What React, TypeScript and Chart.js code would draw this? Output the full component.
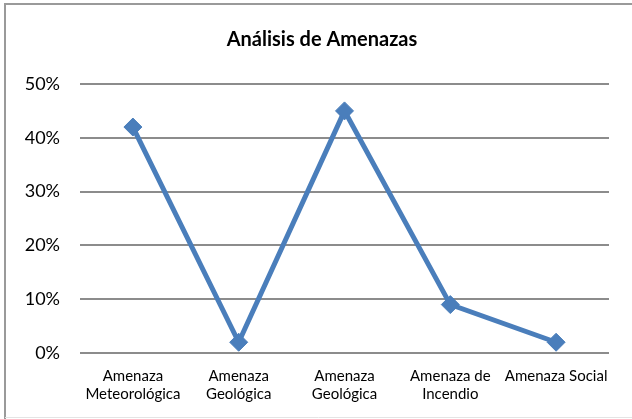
import React, { useEffect, useRef } from "react";
import { Chart, registerables } from "chart.js";

Chart.register(...registerables);

const categories: string[][] = [
  ["Amenaza", "Meteorológica"],
  ["Amenaza", "Geológica"],
  ["Amenaza", "Geológica"],
  ["Amenaza de", "Incendio"],
  ["Amenaza Social"],
];
const values: number[] = [0.42, 0.02, 0.45, 0.09, 0.02];
const yTicks: number[] = [0, 0.1, 0.2, 0.3, 0.4, 0.5];
const titleText = "Análisis de Amenazas";

const borderPlugin = {
  id: "outerBorder",
  beforeDraw(chart: any) {
    const ctx = chart.ctx;
    ctx.save();
    ctx.fillStyle = "#ffffff";
    ctx.fillRect(0, 0, chart.width, chart.height);
    ctx.strokeStyle = "#9a9a9a";
    ctx.lineWidth = 2;
    ctx.beginPath();
    ctx.moveTo(4, 4);
    ctx.lineTo(chart.width, 4);
    ctx.moveTo(5, 4);
    ctx.lineTo(5, chart.height);
    ctx.stroke();
    ctx.strokeStyle = "#e4e4e4";
    ctx.lineWidth = 1;
    ctx.beginPath();
    ctx.moveTo(5, chart.height - 1.5);
    ctx.lineTo(chart.width, chart.height - 1.5);
    ctx.stroke();
    ctx.restore();
  },
};

const titlePlugin = {
  id: "customTitle",
  afterDraw(chart: any) {
    const ctx = chart.ctx;
    ctx.save();
    ctx.fillStyle = "#000000";
    ctx.font = "bold 20px Lato";
    ctx.textAlign = "center";
    ctx.textBaseline = "middle";
    ctx.fillText(titleText, 322, 40);
    ctx.restore();
  },
};

export default function App() {
  const ref = useRef<HTMLCanvasElement | null>(null);
  useEffect(() => {
    document.body.style.margin = "0";
    const canvas = ref.current;
    if (!canvas) return;
    const chart = new Chart(canvas, {
      type: "line",
      data: {
        labels: categories,
        datasets: [
          {
            data: values,
            borderColor: "#4a7ebb",
            backgroundColor: "#4a7ebb",
            borderWidth: 5,
            pointStyle: "rectRot",
            pointRadius: 9,
            pointHoverRadius: 9,
            pointBorderWidth: 1,
            pointBorderColor: "#4a7ebb",
            tension: 0,
          },
        ],
      },
      options: {
        responsive: false,
        animation: false,
        layout: { padding: { left: 0, right: 23, top: 84, bottom: 0 } },
        plugins: {
          legend: { display: false },
          tooltip: { enabled: false },
          title: { display: false },
        },
        scales: {
          x: {
            offset: true,
            grid: { display: false, drawTicks: false },
            border: { display: false },
            ticks: {
              color: "#000000",
              font: { family: "Lato", size: 15, lineHeight: 1.2 },
              padding: 14,
              maxRotation: 0,
              autoSkip: false,
            },
            afterFit(scale: any) {
              scale.height = 66;
            },
          },
          y: {
            min: 0,
            max: 0.5,
            afterBuildTicks(scale: any) {
              scale.ticks = yTicks.map((v) => ({ value: v }));
            },
            grid: {
              color: "#8c8c8c",
              lineWidth: 2,
              drawTicks: false,
            },
            border: { display: false },
            ticks: {
              color: "#000000",
              font: { family: "Lato", size: 18 },
              padding: 20,
              callback: (v: any) => Math.round(Number(v) * 100) + "%",
            },
            afterFit(scale: any) {
              scale.width = 80;
            },
          },
        },
      },
      plugins: [borderPlugin, titlePlugin],
    });
    return () => chart.destroy();
  }, []);
  return (
    <div style={{ width: 632, height: 419 }}>
      <canvas ref={ref} width={632} height={419} style={{ display: "block" }} />
    </div>
  );
}
